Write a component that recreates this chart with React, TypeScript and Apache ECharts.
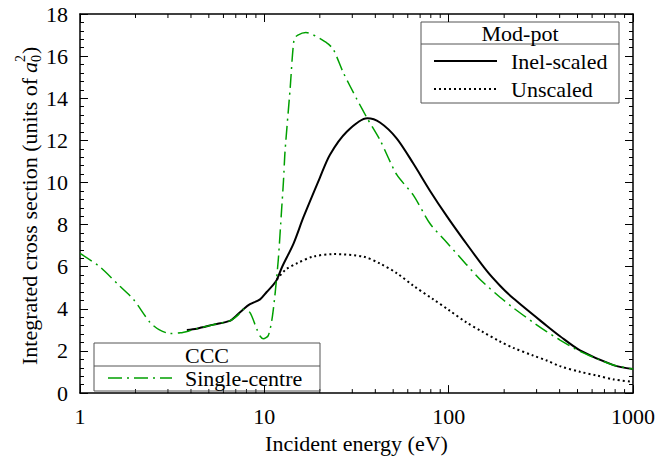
import React, { useEffect, useRef } from "react";
import * as echarts from "echarts";

// ---- data ----
const energySingleCentre = [1, 1.28, 1.6, 1.95, 2.4, 2.7, 3.08, 3.5, 3.9, 4.3, 5.3, 6.5, 7.2, 7.7, 8.36, 9.1, 9.5, 9.88, 10.5, 11.0, 11.4, 11.9, 12.4, 12.7, 12.95, 13.8, 14.5, 15.2, 16.8, 21.8, 23.7, 26.8, 31.7, 36.2, 42.4, 52.2, 64.3, 79.3, 97.7, 125, 150, 190, 224, 288, 340, 402, 516, 650, 783, 1000];
const singleCentre = [6.63, 6.0, 5.18, 4.45, 3.35, 3.0, 2.83, 2.86, 2.95, 3.06, 3.25, 3.43, 3.7, 3.98, 3.82, 3.04, 2.7, 2.58, 2.73, 3.5, 4.6, 6.32, 8.67, 10.07, 11.47, 14.44, 16.81, 17.0, 17.12, 16.63, 16.31, 15.22, 13.97, 13.04, 12.02, 10.38, 9.4, 8.04, 7.15, 6.1, 5.35, 4.55, 4.05, 3.35, 2.92, 2.52, 1.98, 1.6, 1.33, 1.14];

const energyInelScaled = [3.8, 4.3, 5.3, 6.5, 7.0, 7.7, 8.36, 9.48, 10.3, 11.2, 11.7, 12.5, 14.4, 16.3, 20.0, 22.7, 28.0, 36.2, 42.4, 52.2, 64.3, 79.3, 97.7, 120, 161, 190, 224, 340, 402, 516, 783, 1000];
const inelScaled = [3.0, 3.06, 3.25, 3.43, 3.65, 3.98, 4.22, 4.45, 4.8, 5.15, 5.39, 6.0, 7.1, 8.35, 10.22, 11.32, 12.41, 13.05, 12.85, 12.1, 10.9, 9.6, 8.4, 7.3, 5.8, 5.1, 4.5, 3.2, 2.7, 2.03, 1.33, 1.14];

const energyUnscaled = [11.7, 13, 15, 18.4, 23.7, 34.4, 42.4, 52.2, 64.3, 82.6, 100, 125, 150, 190, 224, 288, 340, 402, 516, 632, 783, 1000];
const unscaled = [5.39, 5.85, 6.16, 6.48, 6.6, 6.48, 6.15, 5.7, 5.1, 4.45, 3.95, 3.35, 2.95, 2.45, 2.15, 1.78, 1.55, 1.28, 1.01, 0.84, 0.65, 0.53];

const xMin = 1;
const xMax = 1000;
const yMin = 0;
const yMax = 18;
const yStep = 2;

const F = "Liberation Serif";
const FS = 22;
const GREEN = "#00a000";

export default function App() {
  const ref = useRef<HTMLDivElement>(null);

  useEffect(() => {
    if (!ref.current) return;
    const chart = echarts.init(ref.current, null, { renderer: "svg" });
    const pair = (xs: number[], ys: number[]) => xs.map((x, i) => [x, ys[i]]);

    const xAxisBase = {
      type: "log",
      min: xMin,
      max: xMax,
      axisLine: { show: true, onZero: false, lineStyle: { color: "#000", width: 1.5 } },
      axisTick: { show: true, inside: true, length: 8, lineStyle: { color: "#000" } },
      splitLine: { show: false },
    };
    const yAxisBase = {
      type: "value",
      min: yMin,
      max: yMax,
      interval: yStep,
      axisLine: { show: true, onZero: false, lineStyle: { color: "#000", width: 1.5 } },
      axisTick: { show: true, inside: true, length: 8, lineStyle: { color: "#000" } },
      minorTick: { show: true, splitNumber: 5, length: 4, lineStyle: { color: "#000" } },
      splitLine: { show: false },
    };

    chart.setOption({
      animation: false,
      grid: { left: 80, top: 14, right: 26, bottom: 61 },
      xAxis: [
        {
          ...xAxisBase,
          position: "bottom",
          axisLabel: {
            fontFamily: F,
            fontSize: FS,
            color: "#000",
            margin: 12,
            formatter: (v: number) => String(Math.round(v)),
          },
          name: "Incident energy (eV)",
          nameLocation: "middle",
          nameGap: 38,
          nameTextStyle: { fontFamily: F, fontSize: FS, color: "#000" },
        },
        { ...xAxisBase, position: "top", axisLabel: { show: false } },
      ],
      yAxis: [
        {
          ...yAxisBase,
          position: "left",
          axisLabel: { fontFamily: F, fontSize: FS, color: "#000", margin: 12 },
        },
        { ...yAxisBase, position: "right", axisLabel: { show: false } },
      ],
      series: [
        {
          type: "line",
          data: pair(energyInelScaled, inelScaled),
          showSymbol: false,
          smooth: 0.3,
          lineStyle: { color: "#000", width: 2, type: "solid" },
          z: 2,
        },
        {
          type: "line",
          data: pair(energyUnscaled, unscaled),
          showSymbol: false,
          smooth: 0.3,
          lineStyle: { color: "#000", width: 2, type: [2, 3] },
          z: 2,
        },
        {
          type: "line",
          data: pair(energySingleCentre, singleCentre),
          showSymbol: false,
          smooth: 0.25,
          lineStyle: { color: GREEN, width: 1.5, type: [14, 5, 2, 5] },
          z: 3,
        },
      ],
    });

    const graphics: any[] = [];
    // minor log ticks (2..9 per decade) on bottom and top, placed through the axis scale
    const yB = chart.convertToPixel({ yAxisIndex: 0 }, yMin) as number;
    const yT = chart.convertToPixel({ yAxisIndex: 0 }, yMax) as number;
    for (let d = 1; d < xMax; d *= 10) {
      for (let k = 2; k <= 9; k++) {
        const px = chart.convertToPixel({ xAxisIndex: 0 }, k * d) as number;
        graphics.push({ type: "line", shape: { x1: px, y1: yB, x2: px, y2: yB - 4 }, style: { stroke: "#000", lineWidth: 1 }, silent: true });
        graphics.push({ type: "line", shape: { x1: px, y1: yT, x2: px, y2: yT + 4 }, style: { stroke: "#000", lineWidth: 1 }, silent: true });
      }
    }

    // y axis title with stacked sub/superscript (widths for 22px Times-like font)
    const w1 = 292;
    const wa = 11;
    const ws = 7;
    const wp = 7;
    const L = w1 + wa + ws + 1 + wp;
    const ts = (text: string, size: number, extra?: any) => ({ text, fontFamily: F, fontSize: size, fill: "#000", verticalAlign: "middle", align: "left", ...(extra || {}) });
    graphics.push({
      type: "group",
      x: 29,
      y: 206 + L / 2,
      rotation: Math.PI / 2,
      children: [
        { type: "text", x: 0, y: 0, style: ts("Integrated cross section (units of ", FS) },
        { type: "text", x: w1, y: 0, style: ts("a", FS, { fontStyle: "italic" }) },
        { type: "text", x: w1 + wa, y: 7, style: ts("0", 14) },
        { type: "text", x: w1 + wa, y: -9, style: ts("2", 14) },
        { type: "text", x: w1 + wa + ws + 1, y: 0, style: ts(")", FS) },
      ],
    });

    const box = "#555";
    const tx = (text: string, x: number, y: number, align: string) => ({
      type: "text",
      x,
      y,
      style: { text, fontFamily: F, fontSize: FS, fill: "#000", align, verticalAlign: "middle" },
    });
    // Mod-pot legend
    graphics.push(
      { type: "rect", shape: { x: 421, y: 22, width: 198, height: 81 }, style: { fill: "none", stroke: box, lineWidth: 1 } },
      { type: "line", shape: { x1: 421, y1: 44, x2: 619, y2: 44 }, style: { stroke: box, lineWidth: 1 } },
      tx("Mod-pot", 520, 33, "center"),
      { type: "line", shape: { x1: 434, y1: 61, x2: 497, y2: 61 }, style: { stroke: "#000", lineWidth: 2 } },
      tx("Inel-scaled", 511, 61, "left"),
      { type: "line", shape: { x1: 434, y1: 89, x2: 497, y2: 89 }, style: { stroke: "#000", lineWidth: 2, lineDash: [2, 3] } },
      tx("Unscaled", 511, 89, "left")
    );
    // CCC legend
    graphics.push(
      { type: "rect", shape: { x: 94, y: 343, width: 226, height: 48 }, style: { fill: "none", stroke: box, lineWidth: 1 } },
      { type: "line", shape: { x1: 94, y1: 366, x2: 320, y2: 366 }, style: { stroke: box, lineWidth: 1 } },
      tx("CCC", 207, 355, "center"),
      { type: "line", shape: { x1: 108, y1: 378, x2: 172, y2: 378 }, style: { stroke: GREEN, lineWidth: 1.5, lineDash: [14, 5, 2, 5] } },
      tx("Single-centre", 185, 378, "left")
    );

    chart.setOption({ graphic: graphics });

    return () => chart.dispose();
  }, []);

  return <div ref={ref} style={{ position: "absolute", left: 0, top: 0, width: 659, height: 459 }} />;
}
